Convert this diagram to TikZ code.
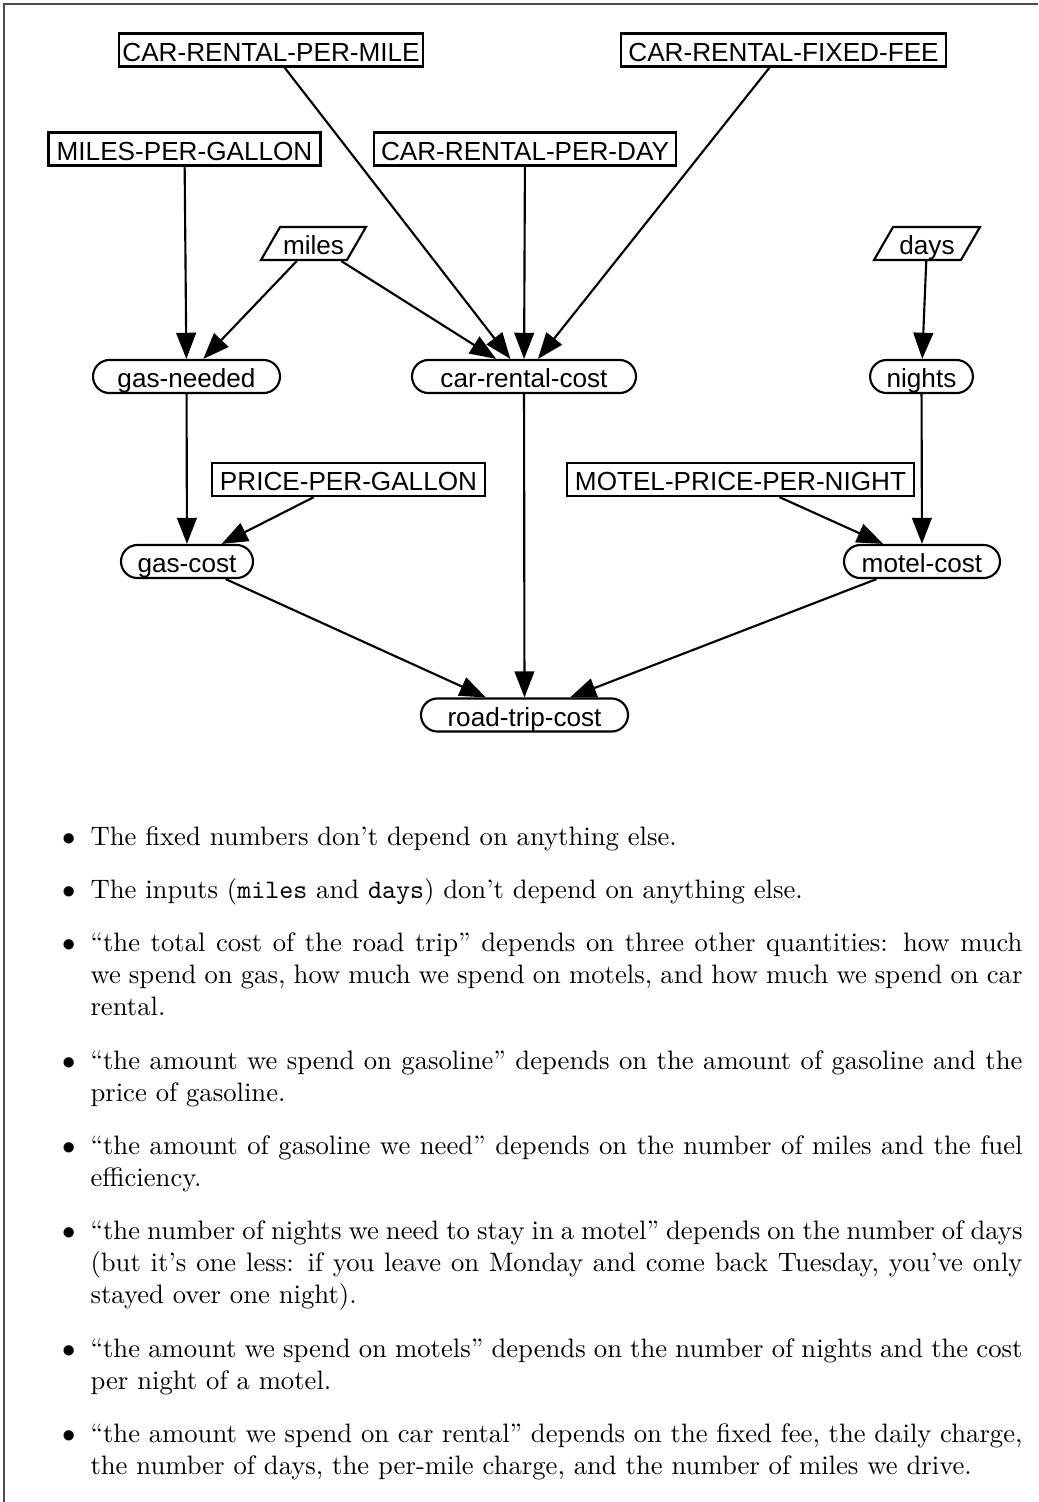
\documentclass[tikz,border=0pt]{standalone}
\usepackage{fontspec}
\newfontfamily\diagfont{Liberation Sans}
\usetikzlibrary{shapes.geometric,shapes.misc,arrows.meta}
\begin{document}
\begin{tikzpicture}[x=0.375pt,y=-0.375pt,
  lbl/.style={draw, line width=0.8pt, font=\diagfont\fontsize{9.8}{11.8}\selectfont,
    text height=10.4pt, text depth=2.0pt, inner ysep=0pt, inner xsep=0pt},
  fixed/.style={lbl, rectangle},
  calcnode/.style={lbl, rounded rectangle},
  inp/.style={lbl, trapezium, trapezium left angle=60, trapezium right angle=120,
    trapezium stretches body},
  edge/.style={line width=0.8pt, -{Triangle[length=9.8pt,width=7.4pt]}},
  item/.style={anchor=base west, inner sep=0pt, text width=349.5pt, align=justify,
    font=\normalsize},
  bul/.style={anchor=base east, inner sep=0pt, font=\normalsize},
  frame/.style={draw=black!70, line width=0.5pt}]
\useasboundingbox (0,0) rectangle (1038,1502);
\draw[frame] (4,1502) -- (4,4) -- (1038,4);

% nodes
\node[fixed, minimum width={304*0.375pt}] (crpm) at (271,50) {CAR-RENTAL-PER-MILE};
\node[fixed, minimum width={325*0.375pt}] (crff) at (783.5,50) {CAR-RENTAL-FIXED-FEE};
\node[fixed, minimum width={272*0.375pt}] (mpg) at (184.5,149) {MILES-PER-GALLON};
\node[fixed, minimum width={302*0.375pt}] (crpd) at (525,149) {CAR-RENTAL-PER-DAY};
\node[inp, minimum width={105*0.375pt}] (miles) at (313.5,243.5) {miles};
\node[inp, minimum width={106*0.375pt}] (days) at (927,243.5) {days};
\node[calcnode, minimum width={187*0.375pt}] (gasn) at (186.5,376.5) {gas-needed};
\node[calcnode, minimum width={224*0.375pt}] (crc) at (524,376.5) {car-rental-cost};
\node[calcnode, minimum width={95*0.375pt}] (nights) at (921.5,376.5) {nights};
\node[fixed, minimum width={273*0.375pt}] (ppg) at (348.5,479.5) {PRICE-PER-GALLON};
\node[fixed, minimum width={347*0.375pt}] (mppn) at (740.5,479.5) {MOTEL-PRICE-PER-NIGHT};
\node[calcnode, minimum width={132*0.375pt}] (gasc) at (187,561.5) {gas-cost};
\node[calcnode, minimum width={156*0.375pt}] (motc) at (922,561.5) {motel-cost};
\node[calcnode, minimum width={207*0.375pt}] (rtc) at (524.5,715) {road-trip-cost};

% edges
\draw[edge] (crpm) -- (crc);
\draw[edge] (crff) -- (crc);
\draw[edge] (crpd) -- (crc);
\draw[edge] (miles) -- (crc);
\draw[edge] (mpg) -- (gasn);
\draw[edge] (miles) -- (gasn);
\draw[edge] (days) -- (nights);
\draw[edge] (gasn) -- (gasc);
\draw[edge] (ppg) -- (gasc);
\draw[edge] (nights) -- (motc);
\draw[edge] (mppn) -- (motc);
\draw[edge] (gasc) -- (rtc);
\draw[edge] (crc) -- (rtc);
\draw[edge] (motc) -- (rtc);

% bullet list
\foreach \y/\n in {845/1,898.3/2,951.7/3,1069/4,1154.3/5,1239.6/6,1357/7,1442.3/8}
  \node[bul] (b\n) at (76,\y) {$\bullet$};
\node[item] (t1) at (90,845) {The fixed numbers don’t depend on anything else.};
\node[item] (t2) at (90,898.3) {The inputs (\texttt{miles} and \texttt{days}) don’t depend on anything else.};
\node[item] (t3) at (90,951.7) {“the total cost of the road trip” depends on three other quantities: how much\linebreak we spend on gas, how much we spend on motels, and how much we spend on car\linebreak rental.};
\node[item] (t4) at (90,1069) {“the amount we spend on gasoline” depends on the amount of gasoline and the\linebreak price of gasoline.};
\node[item] (t5) at (90,1154.3) {“the amount of gasoline we need” depends on the number of miles and the fuel\linebreak efficiency.};
\node[item] (t6) at (90,1239.6) {“the number of nights we need to stay in a motel” depends on the number of days\linebreak (but it’s one less: if you leave on Monday and come back Tuesday, you’ve only\linebreak stayed over one night).};
\node[item] (t7) at (90,1357) {“the amount we spend on motels” depends on the number of nights and the cost\linebreak per night of a motel.};
\node[item] (t8) at (90,1442.3) {“the amount we spend on car rental” depends on the fixed fee, the daily charge,\linebreak the number of days, the per-mile charge, and the number of miles we drive.};
\end{tikzpicture}
\end{document}
